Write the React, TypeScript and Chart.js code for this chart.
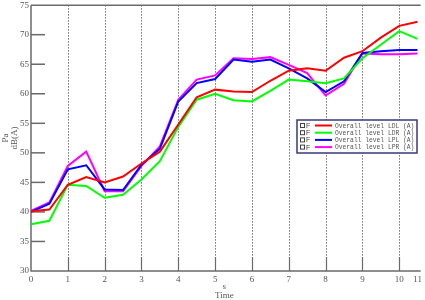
import React, { useEffect, useRef } from "react";
import { Chart, registerables } from "chart.js";

Chart.register(...registerables);

const times = [0, 0.5, 1, 1.5, 2, 2.5, 3, 3.5, 4, 4.5, 5, 5.5, 6, 6.5, 7, 7.5, 8, 8.5, 9, 9.5, 10, 10.5];
const ldl = [40.1, 40.4, 44.6, 45.9, 45.0, 46.0, 48.2, 50.2, 54.8, 59.4, 60.7, 60.4, 60.3, 62.2, 63.9, 64.3, 63.9, 66.1, 67.2, 69.5, 71.5, 72.2];
const ldr = [37.9, 38.5, 44.6, 44.4, 42.4, 42.9, 45.5, 48.6, 54.4, 59.0, 60.0, 58.9, 58.7, 60.5, 62.4, 62.1, 61.8, 62.6, 66.0, 68.3, 70.6, 69.3];
const lpl = [40.0, 41.4, 47.2, 47.9, 43.8, 43.7, 48.0, 50.7, 58.7, 61.8, 62.5, 65.8, 65.4, 65.8, 64.3, 62.6, 60.3, 62.1, 66.9, 67.2, 67.4, 67.4];
const lpr = [40.2, 41.6, 47.8, 50.2, 43.5, 43.5, 47.8, 51.1, 59.0, 62.4, 63.1, 66.0, 65.9, 66.2, 64.9, 63.5, 59.7, 61.7, 66.8, 66.7, 66.7, 66.8];

const seriesLabels = ["Overall level LDL (A)", "Overall level LDR (A)", "Overall level LPL (A)", "Overall level LPR (A)"];
const seriesColors = ["#ff0000", "#00ff00", "#0000ff", "#ff00ff"];

const xTickValues = [0, 1, 2, 3, 4, 5, 6, 7, 8, 9, 10, 10.5];
const xTickLabels = ["0", "1", "2", "3", "4", "5", "6", "7", "8", "9", "10", "11"];
const xGridValues = [1, 2, 3, 4, 5, 6, 7, 8, 9, 10];
const yMin = 30;
const yMax = 75;
const yStep = 5;
const yTitle = ["Pa", "dB(A)"];
const xTitle = ["s", "Time"];

const AXIS = "#6a6a6a";

const framePlugin = {
  id: "frame",
  beforeDatasetsDraw(chart: any) {
    const { ctx, chartArea: a, scales } = chart;
    const xs = scales.x;
    const ys = scales.y;
    ctx.save();
    // dotted vertical grid
    ctx.strokeStyle = "#707070";
    ctx.lineWidth = 1;
    ctx.setLineDash([1.5, 1.5]);
    xGridValues.forEach((v) => {
      const x = Math.round(xs.getPixelForValue(v)) + 0.5;
      ctx.beginPath();
      ctx.moveTo(x, a.top);
      ctx.lineTo(x, a.bottom);
      ctx.stroke();
    });
    ctx.setLineDash([]);
    // bottom tick marks
    ctx.strokeStyle = AXIS;
    ctx.lineWidth = 1.2;
    xGridValues.forEach((v) => {
      const x = Math.round(xs.getPixelForValue(v)) + 0.5;
      ctx.beginPath();
      ctx.moveTo(x, a.bottom);
      ctx.lineTo(x, a.bottom - 14);
      ctx.stroke();
    });
    // left tick marks
    ctx.lineWidth = 1.5;
    for (let v = yMin + yStep; v < yMax; v += yStep) {
      const y = ys.getPixelForValue(v);
      ctx.beginPath();
      ctx.moveTo(a.left, y);
      ctx.lineTo(a.left + 14, y);
      ctx.stroke();
    }
    // axes
    ctx.lineWidth = 1.5;
    ctx.beginPath();
    ctx.moveTo(a.left, a.top);
    ctx.lineTo(a.right + 3, a.top);
    ctx.moveTo(a.left, a.top);
    ctx.lineTo(a.left, a.bottom);
    ctx.lineTo(a.right + 3, a.bottom);
    ctx.stroke();
    ctx.restore();
  },
  afterDatasetsDraw(chart: any) {
    const { ctx } = chart;
    const bx = 297;
    const by = 120;
    const bw = 120;
    const bh = 33;
    ctx.save();
    ctx.fillStyle = "#ffffff";
    ctx.fillRect(bx, by, bw, bh);
    ctx.strokeStyle = "#3a3a7a";
    ctx.lineWidth = 1.5;
    ctx.strokeRect(bx, by, bw, bh);
    chart.data.datasets.forEach((ds: any, i: number) => {
      const y = by + 5.5 + i * 7.2;
      ctx.strokeStyle = "#444";
      ctx.lineWidth = 1;
      ctx.strokeRect(300.5, y - 2, 4, 4);
      ctx.fillStyle = "#444";
      ctx.font = "7px 'Liberation Sans'";
      ctx.textBaseline = "middle";
      ctx.textAlign = "left";
      ctx.fillText("F", 306, y + 0.5);
      ctx.strokeStyle = ds.borderColor;
      ctx.lineWidth = 2;
      ctx.beginPath();
      ctx.moveTo(315, y);
      ctx.lineTo(332, y);
      ctx.stroke();
      ctx.fillStyle = "#555";
      ctx.font = "6.3px 'Liberation Mono'";
      ctx.fillText(ds.label, 335, y + 0.5);
    });
    ctx.restore();
  },
};

export default function App() {
  const ref = useRef<HTMLCanvasElement | null>(null);
  useEffect(() => {
    if (!ref.current) return;
    const series = [ldl, ldr, lpl, lpr];
    const chart = new Chart(ref.current, {
      type: "line",
      data: {
        datasets: series.map((vals, i) => ({
          label: seriesLabels[i],
          data: vals.map((v, j) => ({ x: times[j], y: v })),
          borderColor: seriesColors[i],
          backgroundColor: seriesColors[i],
          borderWidth: 2,
          pointRadius: 0,
          tension: 0,
        })),
      },
      options: {
        animation: false,
        responsive: false,
        devicePixelRatio: 1,
        layout: { padding: 0 },
        plugins: { legend: { display: false }, tooltip: { enabled: false } },
        scales: {
          x: {
            type: "linear",
            min: 0,
            max: 10.5,
            afterBuildTicks: (s: any) => {
              s.ticks = xTickValues.map((v) => ({ value: v }));
            },
            afterFit: (s: any) => {
              s.height = 29;
            },
            grid: { display: false, drawTicks: false },
            border: { display: false },
            ticks: {
              autoSkip: false,
              maxRotation: 0,
              padding: 3,
              color: "#555",
              font: { family: "'Liberation Serif', serif", size: 9 },
              callback: (_v: any, i: number) => xTickLabels[i],
            },
            title: {
              display: true,
              text: xTitle,
              color: "#555",
              padding: 0,
              font: { family: "'Liberation Serif', serif", size: 9, lineHeight: 1 },
            },
          },
          y: {
            type: "linear",
            min: yMin,
            max: yMax,
            afterFit: (s: any) => {
              s.width = 31;
            },
            grid: { display: false, drawTicks: false },
            border: { display: false },
            ticks: {
              stepSize: yStep,
              padding: 2,
              color: "#555",
              font: { family: "'Liberation Serif', serif", size: 9, lineHeight: 0.7 },
            },
            title: {
              display: true,
              text: yTitle,
              color: "#555",
              padding: 1,
              font: { family: "'Liberation Serif', serif", size: 9, lineHeight: 1 },
            },
          },
        },
      },
      plugins: [framePlugin],
    } as any);
    return () => chart.destroy();
  }, []);
  return (
    <div style={{ position: "fixed", left: 0, top: 0, width: 425, height: 300, background: "#fff" }}>
      <canvas ref={ref} width={425} height={300} style={{ display: "block" }} />
    </div>
  );
}
